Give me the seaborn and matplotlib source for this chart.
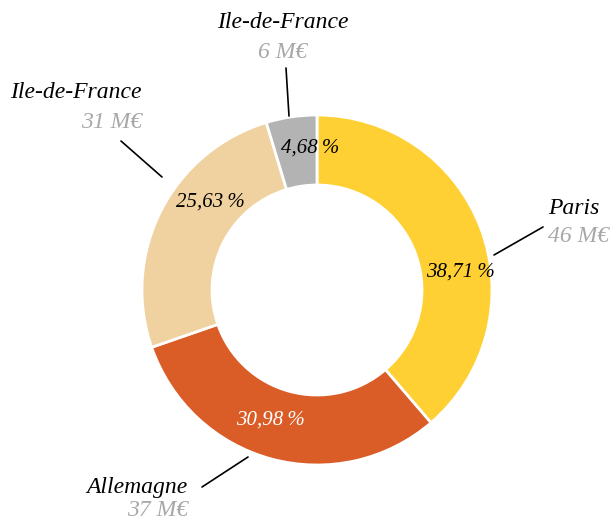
import matplotlib
matplotlib.use("Agg")
import matplotlib.pyplot as plt
import seaborn as sns

sns.set_style("white")
plt.rcParams['font.family'] = ['Liberation Serif', 'DejaVu Serif']

# data
names = ["Paris", "Allemagne", "Ile-de-France", "Ile-de-France"]
amounts = ["46 M€", "37 M€", "31 M€", "6 M€"]
shares = [38.71, 30.98, 25.63, 4.68]
colors = ["#FFD033", "#DA5C27", "#F0D2A0", "#B3B3B3"]
pct_colors = ["black", "white", "black", "black"]

fig = plt.figure(figsize=(6.14, 5.2), dpi=100)
ax = fig.add_axes([0, 0, 1, 1])

cx, cy, R = 317, 290, 175
ax.pie(shares, colors=colors, startangle=-90, counterclock=True,
       center=(cx, cy), radius=R,
       wedgeprops=dict(width=R * 0.4, edgecolor="white", linewidth=2))
ax.set_xlim(0, 614)
ax.set_ylim(520, 0)
ax.set_aspect("equal")
ax.axis("off")

# percentage labels inside the ring
pct_pos = [(460, 272), (270, 420), (210, 202), (310, 148)]
for s, (x, y), c in zip(shares, pct_pos, pct_colors):
    txt = f"{s:.2f}".replace(".", ",") + "\u2009%"
    ax.text(x, y, txt, ha="center", va="center", fontsize=15,
            style="italic", color=c)

# leader lines and outside labels
lines = [((494, 255), (543, 227)), ((248, 457), (202, 487)),
         ((162, 177), (121, 141)), ((289, 116), (286, 68))]
name_pos = [(548, 208, "left"), (188, 487, "right"),
            (142, 92, "right"), (283, 22, "center")]
amt_pos = [(548, 237, "left"), (188, 510, "right"),
           (142, 122, "right"), (283, 52, "center")]
for (p0, p1) in lines:
    ax.plot([p0[0], p1[0]], [p0[1], p1[1]], color="black", lw=1.2)
for n, a, (nx, ny, ha), (axx, ay, ha2) in zip(names, amounts, name_pos, amt_pos):
    ax.text(nx, ny, n, ha=ha, va="center", fontsize=17, style="italic",
            color="black")
    ax.text(axx, ay, a, ha=ha2, va="center", fontsize=17, style="italic",
            color="#A8A8A8")

fig.savefig("out.png", dpi=100)
